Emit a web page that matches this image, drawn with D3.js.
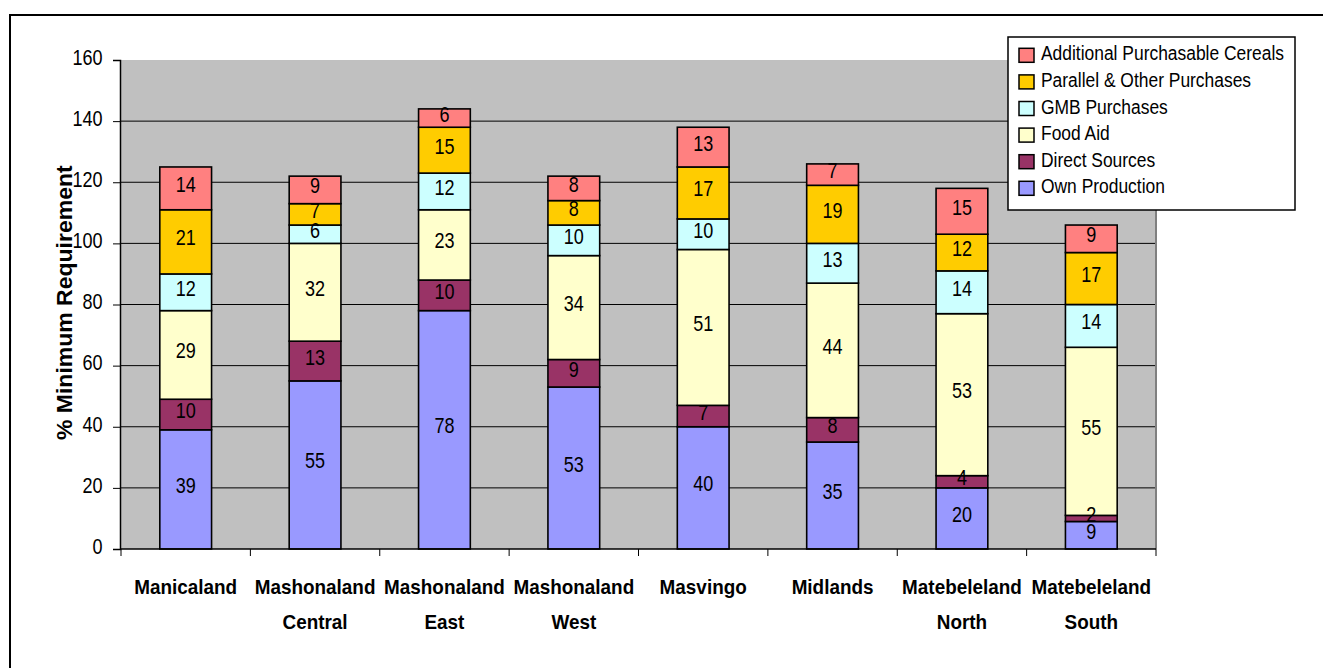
<!DOCTYPE html>
<html>
<head>
<meta charset="utf-8">
<script src="https://cdn.jsdelivr.net/npm/d3@7"></script>
<style>
  body { margin: 0; background: #fff; }
  svg { display: block; font-family: "Liberation Sans", Arial, sans-serif; }
</style>
</head>
<body>
<svg id="chart" width="1323" height="668"></svg>
<script>
// regions along the x axis (two-line labels)
const regions = [
  ["Manicaland"], ["Mashonaland", "Central"], ["Mashonaland", "East"], ["Mashonaland", "West"],
  ["Masvingo"], ["Midlands"], ["Matebeleland", "North"], ["Matebeleland", "South"]
];

// stacked series, bottom to top
const seriesNames = ["Own Production", "Direct Sources", "Food Aid", "GMB Purchases",
  "Parallel & Other Purchases", "Additional Purchasable Cereals"];
const ownProduction   = [39, 55, 78, 53, 40, 35, 20, 9];
const directSources   = [10, 13, 10, 9, 7, 8, 4, 2];
const foodAid         = [29, 32, 23, 34, 51, 44, 53, 55];
const gmbPurchases    = [12, 6, 12, 10, 10, 13, 14, 14];
const parallelOther   = [21, 7, 15, 8, 17, 19, 12, 17];
const additionalCereals = [14, 9, 6, 8, 13, 7, 15, 9];

const yTicks = [0, 20, 40, 60, 80, 100, 120, 140, 160];
const colors = ["#9999FF", "#993366", "#FFFFCC", "#CCFFFF", "#FFCC00", "#FF8080"];

const svg = d3.select("#chart");
const SX = 0.82; // text in the reference looks horizontally squeezed

function label(g, x, y, s, size, anchor, bold, sx) {
  return g.append("text")
    .attr("transform", `translate(${x},${y}) scale(${sx || SX},1)`)
    .attr("text-anchor", anchor)
    .attr("font-size", size)
    .attr("font-weight", bold ? "bold" : "normal")
    .attr("fill", "#000")
    .text(s);
}

// outer frame
svg.append("rect")
  .attr("x", 10).attr("y", 15).attr("width", 1340).attr("height", 700)
  .attr("fill", "none").attr("stroke", "#000").attr("stroke-width", 2);

const plot = {left: 120, right: 1156, top: 60, bottom: 549};

const table = regions.map((r, i) => ({
  key: i,
  "Own Production": ownProduction[i],
  "Direct Sources": directSources[i],
  "Food Aid": foodAid[i],
  "GMB Purchases": gmbPurchases[i],
  "Parallel & Other Purchases": parallelOther[i],
  "Additional Purchasable Cereals": additionalCereals[i]
}));

const x = d3.scaleBand()
  .domain(d3.range(regions.length))
  .range([plot.left + 1, plot.right])
  .paddingInner(0.6).paddingOuter(0.3);

const y = d3.scaleLinear().domain([0, 160]).range([plot.bottom, plot.top]);

// plot background
svg.append("rect")
  .attr("x", plot.left).attr("y", plot.top)
  .attr("width", plot.right - plot.left).attr("height", plot.bottom - plot.top)
  .attr("fill", "#C0C0C0");

// gridlines
svg.append("g").selectAll("line")
  .data(yTicks.filter(v => v > 0 && v < 160))
  .join("line")
  .attr("x1", plot.left).attr("x2", plot.right)
  .attr("y1", d => y(d)).attr("y2", d => y(d))
  .attr("stroke", "#000").attr("stroke-width", 1);

// right plot border
svg.append("line")
  .attr("x1", plot.right).attr("x2", plot.right)
  .attr("y1", plot.top).attr("y2", plot.bottom)
  .attr("stroke", "#808080").attr("stroke-width", 2);

// stacked bars
const stack = d3.stack().keys(seriesNames)(table);

const layers = svg.append("g").selectAll("g")
  .data(stack)
  .join("g")
  .attr("fill", (d, i) => colors[i]);

layers.selectAll("rect")
  .data(d => d)
  .join("rect")
  .attr("x", d => x(d.data.key))
  .attr("width", x.bandwidth())
  .attr("y", d => y(d[1]))
  .attr("height", d => y(d[0]) - y(d[1]))
  .attr("stroke", "#000").attr("stroke-width", 1.6);

// segment labels
const labelsG = svg.append("g");
stack.forEach(layer => {
  layer.forEach(d => {
    const v = d[1] - d[0];
    const cx = x(d.data.key) + x.bandwidth() / 2;
    const cy = (y(d[0]) + y(d[1])) / 2;
    label(labelsG, cx, cy + 3.5, String(v), 22, "middle", false);
  });
});

// y axis
const yAxis = d3.axisLeft(y).tickValues(yTicks).tickSize(7).tickFormat("");
const yg = svg.append("g").attr("transform", `translate(${plot.left},0)`).call(yAxis);
yg.select(".domain").attr("stroke", "#000").attr("stroke-width", 1.5);
yg.selectAll(".tick line").attr("stroke", "#000");
yTicks.forEach(v => label(svg, 102.5, y(v) + 4.8, String(v), 22, "end", false));

// x axis line and ticks at category boundaries
svg.append("line")
  .attr("x1", plot.left).attr("x2", plot.right)
  .attr("y1", plot.bottom).attr("y2", plot.bottom)
  .attr("stroke", "#000").attr("stroke-width", 1.5);

const step = x.step();
const bounds = d3.range(regions.length + 1).map(i => plot.left + 1 + i * step);
svg.append("g").selectAll("line")
  .data(bounds)
  .join("line")
  .attr("x1", d => d).attr("x2", d => d)
  .attr("y1", plot.bottom).attr("y2", plot.bottom + 7)
  .attr("stroke", "#000").attr("stroke-width", 1);

// x category labels
regions.forEach((lines, i) => {
  const cx = x(i) + x.bandwidth() / 2;
  lines.forEach((s, j) => {
    label(svg, cx, 593.5 + j * 35, s, 21, "middle", true, 0.9);
  });
});

// y axis title (clipped like the reference)
svg.append("clipPath").attr("id", "titleClip")
  .append("rect").attr("x", 0).attr("y", 165).attr("width", 110).attr("height", 400);
svg.append("g")
  .attr("clip-path", "url(#titleClip)")
  .append("text")
  .attr("transform", `translate(72,440) scale(0.95,1) rotate(-90)`)
  .attr("text-anchor", "start")
  .attr("font-size", 23)
  .attr("font-weight", "bold")
  .attr("fill", "#000")
  .text("% Minimum Requirements");

// legend
const legend = svg.append("g");
legend.append("rect")
  .attr("x", 1008).attr("y", 37).attr("width", 287).attr("height", 173)
  .attr("fill", "#fff").attr("stroke", "#000").attr("stroke-width", 1.5);

const legendItems = seriesNames.map((s, i) => ({name: s, color: colors[i]})).reverse();
legendItems.forEach((it, i) => {
  const cy = 55.3 + i * 26.6;
  legend.append("rect")
    .attr("x", 1019).attr("y", cy - 7).attr("width", 15).attr("height", 14)
    .attr("fill", it.color).attr("stroke", "#000").attr("stroke-width", 1.5);
  label(legend, 1041, cy + 5, it.name, 21, "start", false, 0.83);
});
</script>
</body>
</html>
